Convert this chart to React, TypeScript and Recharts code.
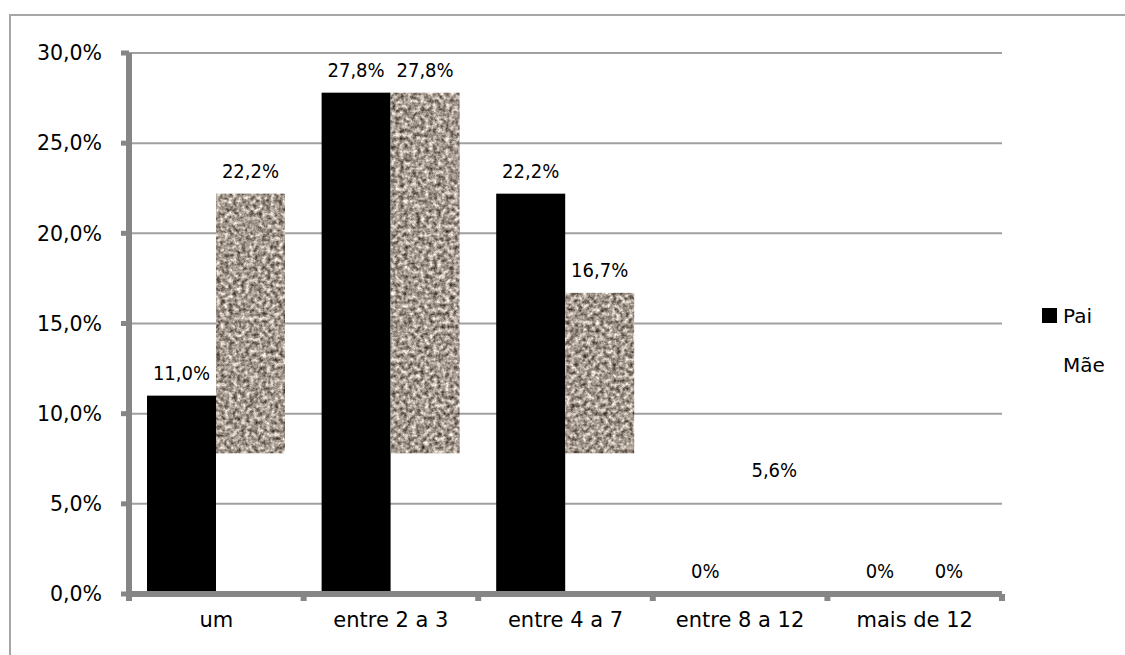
import React from 'react';
import { BarChart, Bar, XAxis, YAxis, CartesianGrid } from 'recharts';

const categories = ['um', 'entre 2 a 3', 'entre 4 a 7', 'entre 8 a 12', 'mais de 12'];
const paiValues = [11.0, 27.8, 22.2, 0, 0];
const maeValues = [22.2, 27.8, 16.7, 5.6, 0];
const yTicks = [0, 5, 10, 15, 20, 25, 30];
const seriesNames = ['Pai', 'Mãe'];
// the original chart's texture fill only shows above this level
const TEXTURE_FLOOR = 7.8;

const data = categories.map((c, i) => ({ name: c, pai: paiValues[i], mae: maeValues[i] }));

const FONT = '"DejaVu Sans", sans-serif';
const FONT_COND = '"DejaVu Sans Condensed", "DejaVu Sans", sans-serif';
const AXIS = '#868686';

const fmtLabel = (v: number) => (v === 0 ? '0%' : v.toFixed(1).replace('.', ',') + '%');
const fmtTick = (v: number) => v.toFixed(1).replace('.', ',') + '%';

const numVal = (value: any) => Number(Array.isArray(value) ? value[1] : value);

const BarLabel = ({ x, y, width, value }: any) => (
  <text
    x={x + width / 2}
    y={y - 16}
    textAnchor="middle"
    fontFamily={FONT_COND}
    style={{ fontStretch: 'condensed' }}
    fontSize={20}
    fill="#000"
  >
    {fmtLabel(value)}
  </text>
);

const PaiShape = (props: any) => {
  const { x, y, width, height } = props;
  const v = numVal(props.value);
  return (
    <g>
      {height > 0 && <rect x={x} y={y} width={width} height={height} fill="#000" />}
      <BarLabel x={x} y={y} width={width} value={v} />
    </g>
  );
};

const MaeShape = (props: any) => {
  const { x, y, width, height } = props;
  const v = numVal(props.value);
  const show = v > TEXTURE_FLOOR && height > 0;
  const h = show ? height * (1 - TEXTURE_FLOOR / v) : 0;
  return (
    <g>
      {show && <rect x={x} y={y} width={width} height={h} fill="#a59a8f" filter="url(#granite)" />}
      <BarLabel x={x} y={y} width={width} value={v} />
    </g>
  );
};

const XTick = (props: any) => {
  const { x, y, payload, index, width, visibleTicksCount } = props;
  const half = width && visibleTicksCount ? width / visibleTicksCount / 2 : 87.3;
  return (
    <g>
      <line x1={x - half} x2={x - half} y1={y} y2={y + 7} stroke={AXIS} strokeWidth={6} />
      {index === visibleTicksCount - 1 && (
        <line x1={x + half} x2={x + half} y1={y} y2={y + 7} stroke={AXIS} strokeWidth={6} />
      )}
      <text x={x} y={y + 33} textAnchor="middle" fontFamily={FONT} fontSize={21} fill="#000">
        {payload.value}
      </text>
    </g>
  );
};

export default function App() {
  return (
    <div style={{ position: 'absolute', left: 0, top: 0, width: 1125, height: 655, background: '#fff', overflow: 'hidden' }}>
      <svg width={0} height={0} style={{ position: 'absolute' }}>
        <defs>
          <filter id="granite" x="0" y="0" width="1" height="1" colorInterpolationFilters="sRGB">
            <feTurbulence type="fractalNoise" baseFrequency="0.24" numOctaves={3} seed={5} result="n" />
            <feColorMatrix
              in="n"
              type="matrix"
              values="1.15 0 0 0 0.07  1.15 0 0 0 0.03  1.15 0 0 0 -0.01  0 0 0 0 1"
              result="c"
            />
            <feComposite in="c" in2="SourceGraphic" operator="in" />
          </filter>
        </defs>
      </svg>
      <div
        style={{
          position: 'absolute',
          left: 9,
          top: 14,
          width: 1116,
          height: 641,
          borderTop: '2px solid #a6a6a6',
          borderLeft: '2px solid #a6a6a6',
          boxSizing: 'border-box',
        }}
      />
      <div style={{ position: 'absolute', left: 0, top: 0 }}>
        <BarChart
          width={1125}
          height={655}
          data={data}
          margin={{ top: 53, right: 123, bottom: 21, left: 0 }}
          barCategoryGap={18}
          barGap={0}
        >
          <CartesianGrid horizontal vertical={false} stroke="#a0a0a0" strokeWidth={2} />
          <XAxis
            dataKey="name"
            height={40}
            axisLine={{ stroke: AXIS, strokeWidth: 6 }}
            tickLine={false}
            tickSize={0}
            tickMargin={0}
            interval={0}
            tick={<XTick />}
          />
          <YAxis
            width={129}
            domain={[0, 30]}
            ticks={yTicks}
            interval={0}
            axisLine={{ stroke: AXIS, strokeWidth: 6 }}
            tickLine={{ stroke: AXIS, strokeWidth: 5 }}
            tickSize={8}
            tickMargin={19}
            tickFormatter={fmtTick}
            tick={{ fontFamily: FONT, fontSize: 20.5, fill: '#000' }}
          />
          <Bar dataKey="pai" name={seriesNames[0]} fill="#000" shape={<PaiShape />} isAnimationActive={false} />
          <Bar dataKey="mae" name={seriesNames[1]} fill="#a59a8f" shape={<MaeShape />} isAnimationActive={false} />
        </BarChart>
      </div>
      <svg width={1125} height={655} style={{ position: 'absolute', left: 0, top: 0, pointerEvents: 'none' }}>
        <rect x={1042} y={308} width={15} height={15} fill="#000" />
        <text x={1063} y={323} fontFamily={FONT} fontSize={20} fill="#000">
          {seriesNames[0]}
        </text>
        <text x={1063} y={372} fontFamily={FONT} fontSize={20} fill="#000">
          {seriesNames[1]}
        </text>
      </svg>
    </div>
  );
}
